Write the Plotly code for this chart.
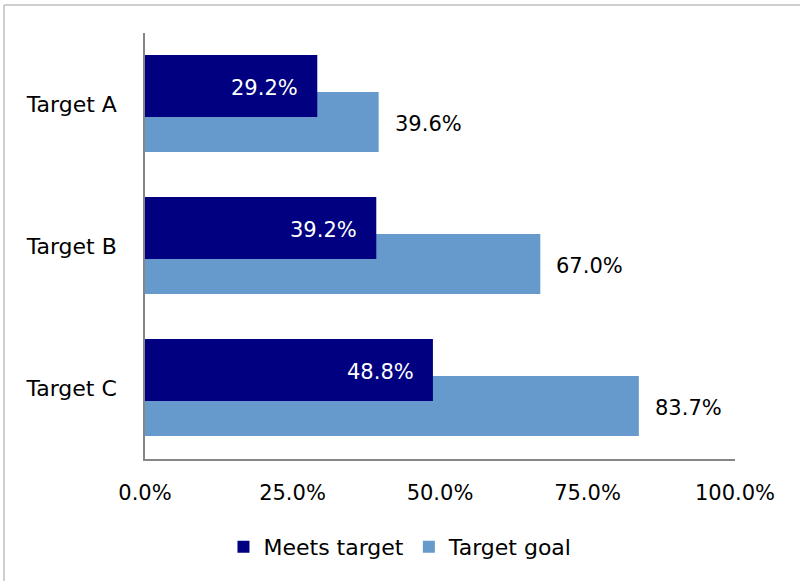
import plotly.graph_objects as go

# ── Données ───────────────────────────────────────────────────────────────────
categories = ["Target A", "Target B", "Target C"]
meets_target = [0.292, 0.392, 0.488]
target_goal = [0.396, 0.670, 0.837]
x_ticks = [0, 0.25, 0.5, 0.75, 1.0]

NAVY = "#000080"
LIGHT = "#6699CC"
FONT = "DejaVu Sans"
FS = 21

# barres décalées qui se chevauchent (style Excel)
DARK_OFF, DARK_W = -0.345, 0.437
LIGHT_OFF, LIGHT_W = -0.085, 0.423

fig = go.Figure()

# barre claire d'abord, la foncée passe par-dessus
fig.add_trace(go.Bar(
    y=categories, x=target_goal, orientation="h",
    name="Target goal", marker=dict(color=LIGHT, line=dict(width=0)),
    offset=LIGHT_OFF, width=LIGHT_W, legendrank=2,
    hoverinfo="skip",
))
fig.add_trace(go.Bar(
    y=categories, x=meets_target, orientation="h",
    name="Meets target", marker=dict(color=NAVY, line=dict(width=0)),
    offset=DARK_OFF, width=DARK_W, legendrank=1,
    hoverinfo="skip",
))

# ── Étiquettes de valeurs ─────────────────────────────────────────────────────
for i, v in enumerate(meets_target):
    fig.add_annotation(
        x=v, y=i + DARK_OFF + DARK_W / 2, text=f"{v * 100:.1f}%",
        showarrow=False, xanchor="right", xshift=-17, yshift=-2,
        font=dict(family=FONT, size=FS, color="white"),
    )
for i, v in enumerate(target_goal):
    fig.add_annotation(
        x=v, y=i + LIGHT_OFF + LIGHT_W / 2, text=f"{v * 100:.1f}%",
        showarrow=False, xanchor="left", xshift=14, yshift=-2,
        font=dict(family=FONT, size=FS, color="black"),
    )

# ── Cadre du graphique (seuls les bords haut et gauche sont visibles) ─────────
x_left = (4 - 145) / 590
y_top = (459 - 5) / 426
border = dict(color="#BFBFBF", width=1.5)
fig.add_shape(type="line", xref="paper", yref="paper",
              x0=x_left, x1=(820 - 145) / 590, y0=y_top, y1=y_top,
              line=border, layer="below")
fig.add_shape(type="line", xref="paper", yref="paper",
              x0=x_left, x1=x_left, y0=y_top, y1=(459 - 620) / 426,
              line=border, layer="below")

fig.update_layout(
    width=800, height=581,
    paper_bgcolor="white", plot_bgcolor="white",
    margin=dict(l=145, r=65, t=33, b=122),
    barmode="overlay",
    font=dict(family=FONT, size=FS, color="black"),
    xaxis=dict(
        range=[0, 1], tickvals=x_ticks, tickformat=".1%",
        showgrid=False, zeroline=False,
        showline=True, linecolor="#868686", linewidth=1.5,
        ticks="", ticklabelstandoff=14,
        tickfont=dict(family=FONT, size=FS, color="black"),
    ),
    yaxis=dict(
        categoryorder="array", categoryarray=categories,
        range=[2.5, -0.5],
        showgrid=False, zeroline=False,
        showline=True, linecolor="#868686", linewidth=1.5,
        ticks="", ticklabelstandoff=22,
        tickfont=dict(family=FONT, size=22, color="black"),
    ),
    showlegend=True,
    legend=dict(
        orientation="h", x=0.433, xanchor="center",
        y=(459 - 547) / 426, yanchor="middle",
        font=dict(family=FONT, size=22, color="black"),
        bgcolor="rgba(0,0,0,0)",
    ),
)

fig.write_html(
    "out.html",
    config={"displayModeBar": False},
    post_script="document.body.style.margin='0';document.body.style.overflow='hidden';",
)
